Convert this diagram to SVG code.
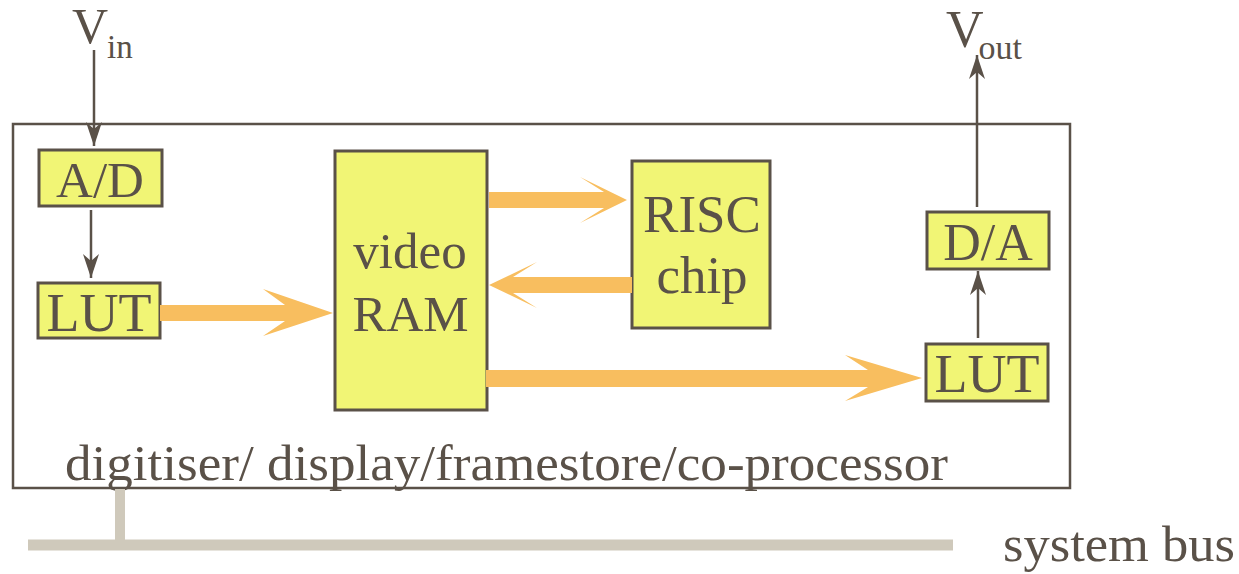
<svg xmlns="http://www.w3.org/2000/svg" width="1239" height="574" viewBox="0 0 1239 574">
  <defs>
    <style>
      .box { fill: #f1f575; stroke: #5a5148; stroke-width: 3; }
      .frame { fill: none; stroke: #5a5148; stroke-width: 2.5; }
      .lbl { font-family: "Liberation Serif", "Times New Roman", serif; fill: #5a5148; }
      .thin { stroke: #5a5148; stroke-width: 2.5; fill: none; }
      .fat { fill: #f8be5f; }
      .bus { stroke: #cfc9bb; fill: none; }
    </style>
    <marker id="head" viewBox="0 0 24 16" refX="24" refY="8" markerWidth="24" markerHeight="16" markerUnits="userSpaceOnUse" orient="auto">
      <path d="M0,0 L24,8 L0,16 L7,8 Z" fill="#5a5148"/>
    </marker>
  </defs>

  <!-- board outline and caption -->
  <g id="board">
    <rect class="frame" x="13" y="124" width="1057" height="364"/>
    <text class="lbl" x="65" y="480" font-size="50" textLength="883" lengthAdjust="spacingAndGlyphs">digitiser/ display/framestore/co-processor</text>
  </g>

  <!-- system bus -->
  <g id="system-bus">
    <path class="bus" d="M120,489 V545" stroke-width="10"/>
    <path class="bus" d="M28,545 H953" stroke-width="11"/>
    <text class="lbl" x="1003" y="561" font-size="50" textLength="232" lengthAdjust="spacingAndGlyphs">system bus</text>
  </g>

  <!-- signal labels -->
  <g id="vin">
    <text class="lbl" x="72" y="43" font-size="50">V<tspan font-size="33" dx="-1" dy="15">in</tspan></text>
  </g>
  <g id="vout">
    <text class="lbl" x="946" y="47" font-size="52">V<tspan font-size="34" dx="-5" dy="12">out</tspan></text>
  </g>

  <!-- blocks -->
  <g id="ad">
    <rect class="box" x="39" y="150" width="123" height="56"/>
    <text class="lbl" x="100" y="197" font-size="51" text-anchor="middle">A/D</text>
  </g>
  <g id="lut-in">
    <rect class="box" x="38" y="283" width="122" height="55"/>
    <text class="lbl" x="99" y="331" font-size="54" text-anchor="middle">LUT</text>
  </g>
  <g id="video-ram">
    <rect class="box" x="335" y="151" width="152" height="259"/>
    <text class="lbl" x="410" y="268" font-size="51" text-anchor="middle">video</text>
    <text class="lbl" x="410.5" y="331" font-size="51" text-anchor="middle">RAM</text>
  </g>
  <g id="risc">
    <rect class="box" x="632" y="161" width="138" height="167"/>
    <text class="lbl" x="702" y="232" font-size="53" text-anchor="middle">RISC</text>
    <text class="lbl" x="702" y="293" font-size="53" text-anchor="middle">chip</text>
  </g>
  <g id="da">
    <rect class="box" x="927" y="212" width="122" height="57"/>
    <text class="lbl" x="988" y="260" font-size="52" text-anchor="middle">D/A</text>
  </g>
  <g id="lut-out">
    <rect class="box" x="926" y="344" width="122" height="57"/>
    <text class="lbl" x="987" y="392" font-size="54" text-anchor="middle">LUT</text>
  </g>

  <!-- connectors -->
  <g id="connectors">
    <path class="thin" d="M94,50 V146" marker-end="url(#head)"/>
    <path class="thin" d="M91,210 V278" marker-end="url(#head)"/>
    <path class="thin" d="M978,338 V271" marker-end="url(#head)"/>
    <path class="thin" d="M977,207 V55" marker-end="url(#head)"/>
    <!-- wide data paths -->
    <path class="fat" d="M160,305 H285 L263,289 L333,313 L263,336 L285,321 H160 Z"/>
    <path class="fat" d="M489,192 H604 L580,177 L627,200 L580,223 L604,208 H489 Z"/>
    <path class="fat" d="M632,277 H513 L537,262 L489,285 L537,308 L513,293 H632 Z"/>
    <path class="fat" d="M486,370 H868 L845,355 L922,378 L845,401 L868,387 H486 Z"/>
  </g>
</svg>
